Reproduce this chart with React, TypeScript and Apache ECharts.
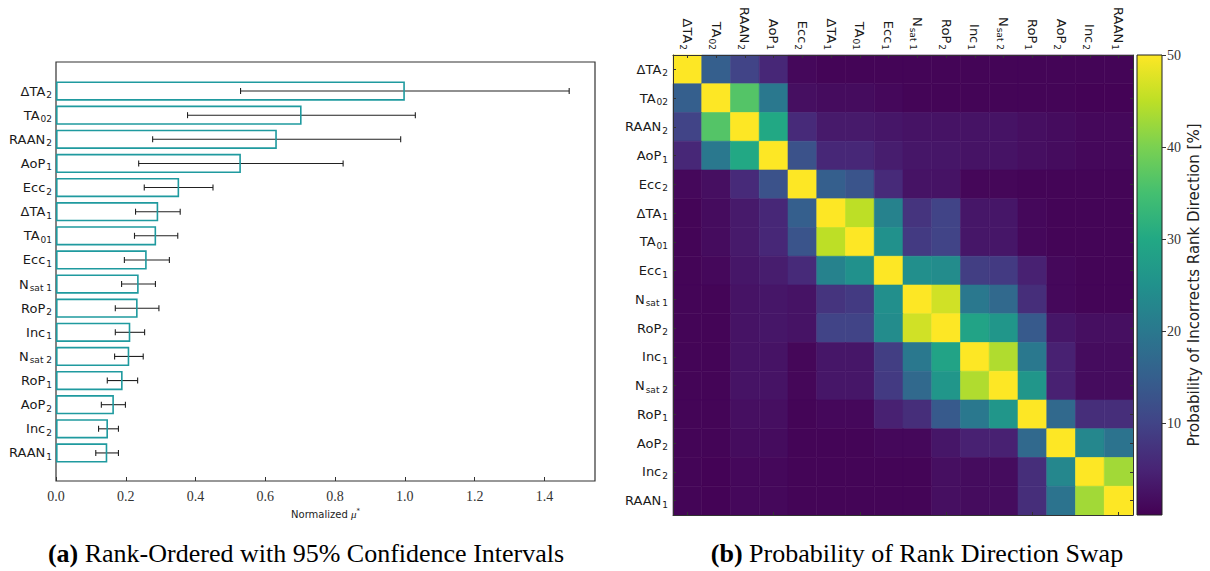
import React, { useEffect, useRef } from "react";
import * as echarts from "echarts";

// Parameter labels (base + subscript), rank-ordered
const paramBase = ["ΔTA", "TA", "RAAN", "AoP", "Ecc", "ΔTA", "TA", "Ecc", "N", "RoP", "Inc", "N", "RoP", "AoP", "Inc", "RAAN"];
const paramSub = ["2", "02", "2", "1", "2", "1", "01", "1", "sat 1", "2", "1", "sat 2", "1", "2", "2", "1"];

// Normalized mu* and 95% CI
const muStar = [1.0, 0.704, 0.633, 0.53, 0.353, 0.293, 0.287, 0.26, 0.237, 0.234, 0.213, 0.21, 0.191, 0.166, 0.149, 0.147];
const ciLow = [0.529, 0.377, 0.277, 0.237, 0.253, 0.228, 0.225, 0.196, 0.188, 0.17, 0.17, 0.168, 0.147, 0.13, 0.122, 0.114];
const ciHigh = [1.471, 1.03, 0.988, 0.823, 0.45, 0.356, 0.349, 0.325, 0.285, 0.295, 0.254, 0.25, 0.234, 0.199, 0.179, 0.179];

const xTicks = [0, 0.2, 0.4, 0.6, 0.8, 1.0, 1.2, 1.4];
const cbTicks = [10, 20, 30, 40, 50];

// Probability of rank direction swap [%]
const swap = [
  [50, 15, 10, 5.5, 1, 0.5, 0.5, 0.5, 0.5, 0.5, 0.5, 0.5, 0.5, 0.5, 0.5, 0.5],
  [15, 50, 36.5, 20, 2, 1.5, 1.5, 1, 0.5, 0.5, 0.5, 0.5, 0.5, 0.5, 0.3, 0.3],
  [10, 36.5, 50, 30, 6, 3.5, 3.5, 3, 2.5, 2.5, 2.5, 2.5, 2, 1.5, 1, 1],
  [5.5, 20, 30, 50, 12.5, 5.5, 5.5, 4, 3, 3, 2.5, 2.5, 2, 1.5, 1, 1],
  [1, 2, 6, 12.5, 50, 15, 13, 6, 2.5, 2.5, 0.8, 0.8, 0.5, 0.5, 0.5, 0.5],
  [0.5, 1.5, 3.5, 5.5, 15, 50, 45, 22, 7.5, 10, 3, 3, 1, 0.5, 0.5, 0.5],
  [0.5, 1.5, 3.5, 5.5, 13, 45, 50, 25, 8.5, 10, 3, 3, 1, 0.5, 0.5, 0.5],
  [0.5, 1, 3, 4, 6, 22, 25, 50, 24.5, 24, 9, 8.5, 4.5, 1, 0.5, 0.5],
  [0.5, 0.5, 2.5, 3, 2.5, 7.5, 8.5, 24.5, 50, 46.5, 20, 17, 6.5, 1, 0.5, 0.5],
  [0.5, 0.5, 2.5, 3, 2.5, 10, 10, 24, 46.5, 50, 29, 26, 14, 3, 2, 2],
  [0.5, 0.5, 2.5, 2.5, 0.8, 3, 3, 9, 20, 29, 50, 44, 20, 4.5, 1.5, 1.5],
  [0.5, 0.5, 2.5, 2.5, 0.8, 3, 3, 8.5, 17, 26, 44, 50, 26, 4.5, 1.5, 1.5],
  [0.5, 0.5, 2, 2, 0.5, 1, 1, 4.5, 6.5, 14, 20, 26, 50, 17, 6.5, 6.5],
  [0.5, 0.5, 1.5, 1.5, 0.5, 0.5, 0.5, 1, 1, 3, 4.5, 4.5, 17, 50, 23, 19],
  [0.5, 0.3, 1, 1, 0.5, 0.5, 0.5, 0.5, 0.5, 2, 1.5, 1.5, 6.5, 23, 50, 43],
  [0.5, 0.3, 1, 1, 0.5, 0.5, 0.5, 0.5, 0.5, 2, 1.5, 1.5, 6.5, 19, 43, 50],
];

const viridis = ["#440154", "#482475", "#414487", "#355f8d", "#2a788e", "#21918c", "#22a884", "#44bf70", "#7ad151", "#bddf26", "#fde725"];

const SANS = "DejaVu Sans";
const SERIF = "Liberation Serif";

const categories = paramBase.map((b, i) => b + "_" + paramSub[i]);

const richLabel = {
  b: { fontFamily: SANS, fontSize: 13, lineHeight: 18, color: "#1a1a1a" },
  s: { fontFamily: SANS, fontSize: 9, lineHeight: 10, padding: [8, 0, 0, 1], color: "#1a1a1a" },
};
const fmtLabel = (v: string) => {
  const [b, s] = v.split("_");
  return `{b|${b}}{s|${s}}`;
};

export default function App() {
  const ref = useRef<HTMLDivElement>(null);
  useEffect(() => {
    if (!ref.current) return;
    const chart = echarts.init(ref.current, undefined, { renderer: "svg" });
    const heatData: number[][] = [];
    swap.forEach((row, i) => row.forEach((v, j) => heatData.push([j, i, v])));
    const errData = categories.map((c, i) => [ciLow[i], i, ciHigh[i]]);

    const captionRich = {
      b: { fontFamily: SERIF, fontSize: 26, fontWeight: "bold", fill: "#000" },
      r: { fontFamily: SERIF, fontSize: 26, fill: "#000" },
    };

    const option: any = {
      animation: false,
      backgroundColor: "#ffffff",
      grid: [
        { left: 56, top: 62, width: 539, height: 419, show: true, borderColor: "#333", borderWidth: 1.2, backgroundColor: "transparent" },
        { left: 56, top: 79, width: 539, height: 386 },
        { left: 673, top: 55, width: 460, height: 460 },
        { left: 1137, top: 55, width: 25, height: 460 },
      ],
      xAxis: [
        {
          gridIndex: 0, type: "value", min: 0, max: 1.545, interval: 0.2,
          axisLine: { show: false },
          axisTick: { show: true, inside: true, length: 4, lineStyle: { color: "#333" } },
          axisLabel: { fontFamily: SERIF, fontSize: 14, color: "#333", margin: 8, showMaxLabel: false,
            formatter: (v: number) => (xTicks.some((t) => Math.abs(t - v) < 1e-6) ? v.toFixed(1) : "") },
          splitLine: { show: false },
          name: "{n|Normalized }{m|μ}{p|*}",
          nameLocation: "middle", nameGap: 21,
          nameTextStyle: {
            rich: {
              n: { fontFamily: SANS, fontSize: 10, color: "#222" },
              m: { fontFamily: SERIF, fontStyle: "italic", fontSize: 11, color: "#222" },
              p: { fontFamily: SANS, fontSize: 7, color: "#222", padding: [0, 0, 6, 0] },
            },
          },
        },
        { gridIndex: 1, type: "value", min: 0, max: 1.545, show: false },
        {
          gridIndex: 2, type: "category", position: "top", data: categories, z: 10,
          axisLine: { show: true, lineStyle: { color: "#333", width: 1 } },
          axisTick: { show: true, inside: true, alignWithLabel: true, length: 3, lineStyle: { color: "#333" } },
          axisLabel: { rotate: 90, margin: 5, formatter: fmtLabel, rich: richLabel, interval: 0 },
        },
        {
          gridIndex: 2, type: "category", position: "bottom", data: categories, z: 10,
          axisLine: { show: true, lineStyle: { color: "#333", width: 1 } },
          axisTick: { show: true, inside: true, alignWithLabel: true, length: 3, lineStyle: { color: "#333" } },
          axisLabel: { show: false },
        },
        { gridIndex: 3, type: "category", data: ["cb"], show: false },
      ],
      yAxis: [
        { gridIndex: 0, type: "value", min: 0, max: 1, show: false },
        {
          gridIndex: 1, type: "category", data: categories, inverse: true,
          axisLine: { show: false }, axisTick: { show: false },
          axisLabel: { margin: 4, formatter: fmtLabel, rich: richLabel, interval: 0 },
        },
        {
          gridIndex: 2, type: "category", data: categories, inverse: true, z: 10,
          axisLine: { show: true, lineStyle: { color: "#333", width: 1 } },
          axisTick: { show: true, inside: true, alignWithLabel: true, length: 3, lineStyle: { color: "#333" } },
          axisLabel: { margin: 5, formatter: fmtLabel, rich: richLabel, interval: 0 },
        },
        {
          gridIndex: 2, type: "category", data: categories, inverse: true, position: "right", z: 10,
          axisLine: { show: true, lineStyle: { color: "#333", width: 1 } },
          axisTick: { show: true, inside: true, alignWithLabel: true, length: 3, lineStyle: { color: "#333" } },
          axisLabel: { show: false },
        },
        {
          gridIndex: 3, type: "value", min: 0, max: 50, interval: 10, position: "right", z: 10,
          axisLine: { show: false },
          axisTick: { show: true, length: 4, lineStyle: { color: "#333" } },
          axisLabel: { fontFamily: SERIF, fontSize: 14, color: "#333", margin: 5, showMinLabel: false,
            formatter: (v: number) => (cbTicks.includes(v) ? String(v) : "") },
          splitLine: { show: false },
          name: "Probability of Incorrects Rank Direction [%]",
          nameLocation: "middle", nameRotate: 90, nameGap: 24,
          nameTextStyle: { fontFamily: SANS, fontSize: 15, color: "#222" },
        },
      ],
      visualMap: {
        show: false, type: "continuous", min: 0, max: 50, seriesIndex: 2, dimension: 2,
        inRange: { color: viridis },
      },
      series: [
        {
          type: "bar", xAxisIndex: 1, yAxisIndex: 1, data: muStar, barWidth: "80%",
          itemStyle: { color: "rgba(0,0,0,0)", borderColor: "#1f9a9f", borderWidth: 1.6 },
        },
        {
          type: "custom", xAxisIndex: 1, yAxisIndex: 1, data: errData,
          encode: { x: [0, 2], y: 1 },
          renderItem: (params: any, api: any) => {
            const p1 = api.coord([api.value(0), api.value(1)]);
            const p2 = api.coord([api.value(2), api.value(1)]);
            const c = 3;
            const st = { stroke: "#222", lineWidth: 1.1 };
            return {
              type: "group",
              children: [
                { type: "line", shape: { x1: p1[0], y1: p1[1], x2: p2[0], y2: p2[1] }, style: st },
                { type: "line", shape: { x1: p1[0], y1: p1[1] - c, x2: p1[0], y2: p1[1] + c }, style: st },
                { type: "line", shape: { x1: p2[0], y1: p2[1] - c, x2: p2[0], y2: p2[1] + c }, style: st },
              ],
            };
          },
        },
        {
          type: "custom", xAxisIndex: 2, yAxisIndex: 2, data: heatData,
          encode: { x: 0, y: 1 },
          renderItem: (params: any, api: any) => {
            const c = api.coord([api.value(0), api.value(1)]);
            const s = api.size([1, 1]);
            const col = api.visual("color");
            return {
              type: "rect",
              shape: { x: c[0] - s[0] / 2, y: c[1] - s[1] / 2, width: s[0], height: s[1] },
              style: { fill: col, stroke: col, lineWidth: 0.6 },
            };
          },
        },
      ],
      graphic: [
        {
          type: "rect", z: 5,
          shape: { x: 1137, y: 55, width: 25, height: 460 },
          style: {
            fill: new echarts.graphic.LinearGradient(0, 1, 0, 0,
              viridis.map((c, i) => ({ offset: i / (viridis.length - 1), color: c }))),
            stroke: "#222", lineWidth: 1,
          },
        },
        {
          type: "text", x: 306, y: 553,
          style: {
            text: "{b|(a)}{r| Rank-Ordered with 95% Confidence Intervals}",
            align: "center", verticalAlign: "middle", rich: captionRich,
          },
        },
        {
          type: "text", x: 917, y: 553,
          style: {
            text: "{b|(b)}{r| Probability of Rank Direction Swap}",
            align: "center", verticalAlign: "middle", rich: captionRich,
          },
        },
      ],
    };
    chart.setOption(option);
    return () => chart.dispose();
  }, []);
  return <div ref={ref} style={{ position: "fixed", left: 0, top: 0, width: 1210, height: 571, background: "#fff" }} />;
}
